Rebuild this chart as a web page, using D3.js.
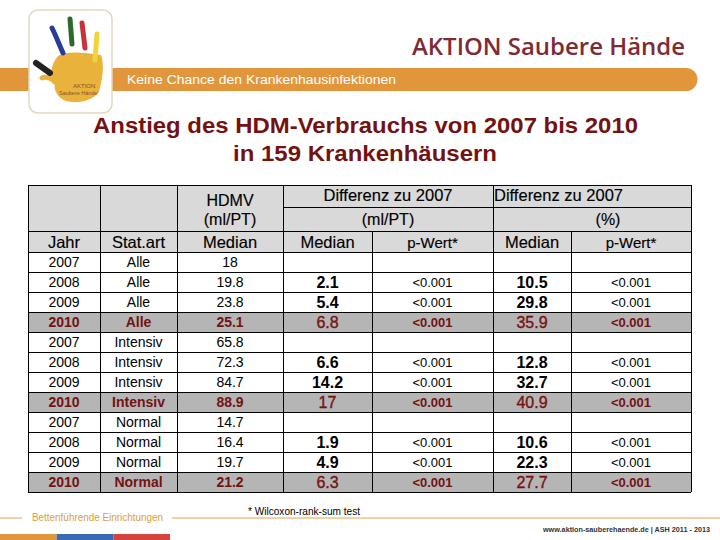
<!DOCTYPE html>
<html><head><meta charset="utf-8">
<script src="https://cdn.jsdelivr.net/npm/d3@7"></script>
<style>body{margin:0;background:#fff}svg{display:block}</style>
</head><body>
<svg id="c" width="720" height="540"></svg>
<script>
// ---- data ----
const years = ["2007","2008","2009","2010","2007","2008","2009","2010","2007","2008","2009","2010"];
const statArt = ["Alle","Alle","Alle","Alle","Intensiv","Intensiv","Intensiv","Intensiv","Normal","Normal","Normal","Normal"];
const hdmvMedian = ["18","19.8","23.8","25.1","65.8","72.3","84.7","88.9","14.7","16.4","19.7","21.2"];
const diffMl = ["","2.1","5.4","6.8","","6.6","14.2","17","","1.9","4.9","6.3"];
const pMl = ["","<0.001","<0.001","<0.001","","<0.001","<0.001","<0.001","","<0.001","<0.001","<0.001"];
const diffPct = ["","10.5","29.8","35.9","","12.8","32.7","40.9","","10.6","22.3","27.7"];
const pPct = ["","<0.001","<0.001","<0.001","","<0.001","<0.001","<0.001","","<0.001","<0.001","<0.001"];
const columns = [years, statArt, hdmvMedian, diffMl, pMl, diffPct, pPct];
const subHeaders = ["Jahr","Stat.art","Median","Median","p-Wert*","Median","p-Wert*"];

const svg = d3.select("#c");
const F = "'Liberation Sans', Arial, sans-serif";
const RED = "#741212";

// ---- header / branding ----
svg.append("path")
  .attr("d","M0,68 H686 A11.5,11.5 0 0 1 686,91 H0 Z")
  .attr("fill","#e2963c");
svg.append("text").attr("x",127).attr("y",84).attr("fill","#fff")
  .attr("font-family",F).attr("font-size",13.5).attr("textLength",269).attr("lengthAdjust","spacingAndGlyphs")
  .text("Keine Chance den Krankenhausinfektionen");
svg.append("text").attr("x",412).attr("y",55).attr("fill","#7e2b33")
  .attr("font-family","'Open Sans', sans-serif").attr("font-size",23.5).attr("font-weight",600)
  .attr("textLength",273).attr("lengthAdjust","spacingAndGlyphs")
  .text("AKTION Saubere Hände");

// logo
const lg = svg.append("g");
lg.append("rect").attr("x",29).attr("y",10).attr("width",83).attr("height",103).attr("rx",9)
  .attr("fill","#fff").attr("stroke","#e6d6bf").attr("stroke-width",1.5);
lg.append("path").attr("d","M58,56 C68,50 86,53 101,55 C105,66 102,80 99,92 C92,101 78,104 66,101 C58,98 53,90 55,82 C49,75 51,64 58,56 Z")
  .attr("fill","#e9b33b");
lg.append("path").attr("d","M42,78 C46,76 52,78 55,82").attr("stroke","#e9b33b").attr("stroke-width",5).attr("fill","none").attr("stroke-linecap","round");
lg.append("path").attr("d","M52,28 C56,36 59,44 63,53").attr("stroke","#2b3b9a").attr("stroke-width",5).attr("fill","none").attr("stroke-linecap","round");
lg.append("path").attr("d","M70,19 L72,44").attr("stroke","#2c6a2c").attr("stroke-width",5).attr("stroke-linecap","round");
lg.append("path").attr("d","M82,23 L85,48").attr("stroke","#c8323a").attr("stroke-width",5).attr("stroke-linecap","round");
lg.append("path").attr("d","M97,34 L95,60").attr("stroke","#f0d43a").attr("stroke-width",5).attr("stroke-linecap","round");
lg.append("path").attr("d","M36,63 L50,73").attr("stroke","#222").attr("stroke-width",6).attr("stroke-linecap","round");
lg.append("text").attr("x",73).attr("y",88).attr("font-size",6).attr("fill","#8a4b2a").attr("font-family",F).text("AKTION");
lg.append("text").attr("x",59).attr("y",95).attr("font-size",5.5).attr("fill","#8a4b2a").attr("font-family",F).text("Saubere Hände");

// title
svg.append("text").attr("x",93).attr("y",133).attr("font-family",F)
  .attr("font-weight","bold").attr("font-size",22).attr("fill",RED)
  .attr("textLength",545).attr("lengthAdjust","spacingAndGlyphs")
  .text("Anstieg des HDM-Verbrauchs von 2007 bis 2010");
svg.append("text").attr("x",365).attr("y",161).attr("text-anchor","middle").attr("font-family",F)
  .attr("font-weight","bold").attr("font-size",22).attr("fill",RED)
  .attr("textLength",264).attr("lengthAdjust","spacingAndGlyphs")
  .text("in 159 Krankenhäusern");

// ---- table ----
const colEdges = [28,100,177,283,372,493,571,691];
const tTop = 185, hdr1 = 207, hdr2 = 231, hdr3 = 252, tBot = 492;
const y = d3.scaleBand().domain(d3.range(years.length)).range([hdr3, tBot]);
const cx = i => (colEdges[i] + colEdges[i+1]) / 2;

svg.append("rect").attr("x",colEdges[0]).attr("y",tTop).attr("width",colEdges[7]-colEdges[0]).attr("height",hdr3-tTop).attr("fill","#d9d9d9");

const isHi = i => years[i] === "2010";
svg.selectAll("rect.row").data(d3.range(years.length)).join("rect")
  .attr("x",colEdges[0]).attr("y",i=>y(i)).attr("width",colEdges[7]-colEdges[0]).attr("height",y.bandwidth())
  .attr("fill",i=>isHi(i)?"#b5b5b5":"#fff");

const g = svg.append("g").attr("stroke","#000").attr("stroke-width",1).attr("shape-rendering","crispEdges");
g.append("line").attr("x1",colEdges[0]).attr("x2",colEdges[7]).attr("y1",tTop).attr("y2",tTop);
g.append("line").attr("x1",colEdges[3]).attr("x2",colEdges[7]).attr("y1",hdr1).attr("y2",hdr1);
g.append("line").attr("x1",colEdges[0]).attr("x2",colEdges[7]).attr("y1",hdr2).attr("y2",hdr2);
d3.range(years.length+1).forEach(i=>{
  const yy = i<years.length ? y(i) : tBot;
  g.append("line").attr("x1",colEdges[0]).attr("x2",colEdges[7]).attr("y1",yy).attr("y2",yy);
});
colEdges.forEach((x,i)=>{
  const start = (i===4||i===6) ? hdr2 : tTop;
  g.append("line").attr("x1",x).attr("x2",x).attr("y1",start).attr("y2",tBot);
});

const ht = (x,yy,t,anchor,size)=>svg.append("text").attr("x",x).attr("y",yy).attr("text-anchor",anchor||"middle")
  .attr("font-family",F).attr("font-size",size||16).attr("fill","#000")
  .attr("stroke","#000").attr("stroke-width",0.15).text(t);
ht(cx(2),206,"HDMV");
ht(cx(2),225,"(ml/PT)");
ht(388,201,"Differenz zu 2007",null,16.5);
ht(388,225,"(ml/PT)");
ht(494,201,"Differenz zu 2007","start",16.5);
ht(608,225,"(%)");
subHeaders.forEach((s,i)=>ht(cx(i),248,s,null,(i===4||i===6)?15:16.5));

const sizes = [14,14,14,16,13,16,13];
const big = ci => ci===3||ci===5;
columns.forEach((col,ci)=>{
  svg.selectAll(null).data(col).join("text")
    .attr("x",cx(ci))
    .attr("y",(d,i)=>y(i)+y.bandwidth()/2+ (big(ci)?6:5))
    .attr("text-anchor","middle")
    .attr("font-family",F)
    .attr("font-size",sizes[ci])
    .attr("font-weight",(d,i)=> big(ci) ? (isHi(i)?"normal":"bold") : (isHi(i)?"bold":"normal"))
    .attr("fill",(d,i)=>isHi(i)?RED:"#000")
    .attr("stroke",(d,i)=> big(ci)&&isHi(i) ? RED : "none")
    .attr("stroke-width",0.35)
    .text(d=>d);
});

// footnote & footer
svg.append("text").attr("x",248).attr("y",515).attr("font-family",F).attr("font-size",10).attr("fill","#000")
  .attr("textLength",112).attr("lengthAdjust","spacingAndGlyphs").text("* Wilcoxon-rank-sum test");
svg.append("line").attr("x1",0).attr("x2",22).attr("y1",518).attr("y2",518).attr("stroke","#e2a24a").attr("stroke-width",1);
svg.append("line").attr("x1",172).attr("x2",720).attr("y1",518).attr("y2",518).attr("stroke","#e2a24a").attr("stroke-width",1);
svg.append("text").attr("x",32).attr("y",521).attr("font-family",F).attr("font-size",10).attr("fill","#d9a03c")
  .attr("textLength",131).attr("lengthAdjust","spacingAndGlyphs").text("Bettenführende Einrichtungen");
svg.append("text").attr("x",543).attr("y",532).attr("font-family",F).attr("font-size",7).attr("font-weight","bold").attr("fill","#333")
  .attr("textLength",167).attr("lengthAdjust","spacingAndGlyphs").text("www.aktion-sauberehaende.de  |  ASH 2011 - 2013");
const barCols = ["#e2963c","#3c6ab0","#d4443a"];
const bx = d3.scaleBand().domain(d3.range(3)).range([0,170]);
svg.selectAll("rect.fb").data(barCols).join("rect").attr("x",(d,i)=>bx(i)).attr("y",534).attr("width",bx.bandwidth()).attr("height",6).attr("fill",d=>d);
</script>
</body></html>
